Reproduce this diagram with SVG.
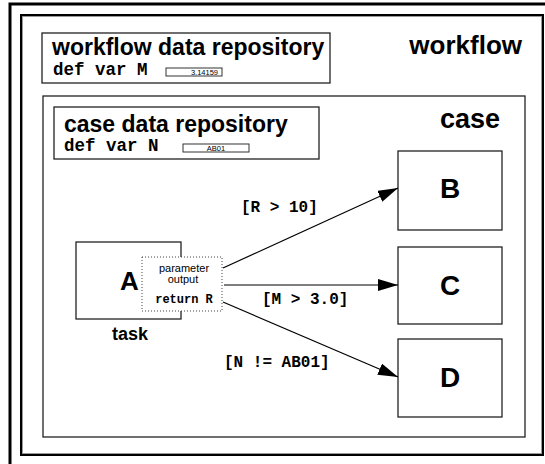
<svg xmlns="http://www.w3.org/2000/svg" width="545" height="464" viewBox="0 0 545 464">
  <defs>
    <marker id="arrow" markerUnits="userSpaceOnUse" markerWidth="20" markerHeight="12" refX="20" refY="6" orient="auto">
      <path d="M0,0 L20,6 L0,12 z" fill="#000"/>
    </marker>
    <style>
      .title { font-family: "Liberation Sans", Arial, sans-serif; font-weight: bold; fill: #000; }
      .mono { font-family: "Liberation Mono", "Courier New", monospace; font-weight: bold; fill: #000; }
      .plain { font-family: "Liberation Sans", Arial, sans-serif; fill: #000; }
      .box { fill: #fff; stroke: #222; stroke-width: 1.3; }
      .val { fill: #fff; stroke: #333; stroke-width: 1; }
      .edge { stroke: #000; stroke-width: 1.2; fill: none; marker-end: url(#arrow); }
    </style>
  </defs>
  <rect width="545" height="464" fill="#fff"/>

  <!-- page frame (left and top edges only) -->
  <polyline points="10,464 10,4 545,4" fill="none" stroke="#000" stroke-width="3"/>

  <!-- workflow container -->
  <g id="workflow">
    <rect x="21" y="15" width="522" height="440" fill="#fff" stroke="#000" stroke-width="2"/>
    <rect x="22.5" y="16.5" width="519" height="437" fill="none" stroke="#999" stroke-width="1"/>
    <text class="title" x="522" y="54" font-size="26" text-anchor="end">workflow</text>
  </g>

  <!-- workflow data repository -->
  <g id="workflow-repo">
    <rect class="box" x="42" y="33" width="288" height="50"/>
    <text class="title" x="52" y="55" font-size="23">workflow data repository</text>
    <text class="mono" x="53" y="75" font-size="17.5">def var M</text>
    <rect class="val" x="166" y="68" width="56" height="8"/>
    <text class="plain" x="218" y="75" font-size="7.5" text-anchor="end">3.14159</text>
  </g>

  <!-- case container -->
  <g id="case">
    <rect class="box" x="43" y="96" width="482" height="341"/>
    <text class="title" x="500" y="128" font-size="27" text-anchor="end">case</text>
  </g>

  <!-- case data repository -->
  <g id="case-repo">
    <rect class="box" x="54" y="107" width="265" height="52"/>
    <text class="title" x="64" y="132" font-size="23">case data repository</text>
    <text class="mono" x="64" y="151" font-size="17.5">def var N</text>
    <rect class="val" x="183" y="144" width="66" height="8"/>
    <text class="plain" x="216" y="151" font-size="7.5" text-anchor="middle">AB01</text>
  </g>

  <!-- task A with its output parameter -->
  <g id="task-A">
    <rect class="box" x="76" y="242" width="105" height="77"/>
    <text class="title" x="129.5" y="290" font-size="26" text-anchor="middle">A</text>
    <rect x="142" y="257" width="80" height="54" fill="#fff" stroke="#444" stroke-width="1" stroke-dasharray="1,2"/>
    <text class="plain" x="184" y="272" font-size="11" text-anchor="middle">parameter</text>
    <text class="plain" x="183" y="283" font-size="11" text-anchor="middle">output</text>
    <text class="mono" x="184" y="303" font-size="12" text-anchor="middle">return R</text>
    <text class="title" x="112" y="340" font-size="18">task</text>
  </g>

  <g id="node-B">
    <rect class="box" x="398" y="151" width="104" height="79"/>
    <text class="title" x="450" y="198" font-size="28" text-anchor="middle">B</text>
  </g>
  <g id="node-C">
    <rect class="box" x="398" y="247" width="104" height="77"/>
    <text class="title" x="450" y="295" font-size="28" text-anchor="middle">C</text>
  </g>
  <g id="node-D">
    <rect class="box" x="398" y="339" width="104" height="78"/>
    <text class="title" x="450" y="387" font-size="28" text-anchor="middle">D</text>
  </g>

  <!-- guarded transitions -->
  <g id="connectors">
    <line class="edge" x1="223" y1="268" x2="398" y2="188"/>
    <line class="edge" x1="224" y1="285" x2="398" y2="285"/>
    <line class="edge" x1="223" y1="302" x2="398" y2="377"/>
    <text class="mono" x="241" y="212" font-size="16">[R &gt; 10]</text>
    <text class="mono" x="262" y="304" font-size="16">[M &gt; 3.0]</text>
    <text class="mono" x="224" y="367" font-size="16">[N != AB01]</text>
  </g>
</svg>
